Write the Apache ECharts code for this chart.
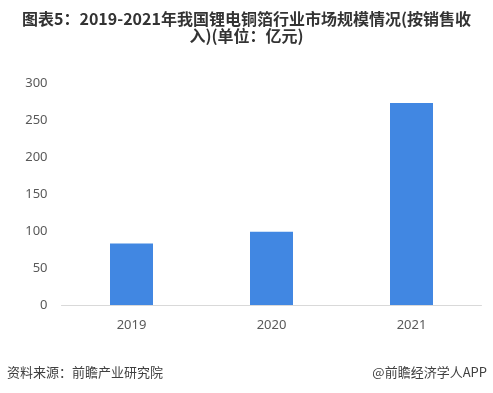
<!DOCTYPE html>
<html><head><meta charset="utf-8">
<script src="https://cdn.jsdelivr.net/npm/echarts@6/dist/echarts.min.js"></script>
<style>html,body{margin:0;padding:0;background:#fff;}#c{width:493px;height:393px;}</style>
</head><body><div id="c"></div>
<script>
var categories = ['2019', '2020', '2021'];
var values = [83, 99, 273];
var yTicks = [0, 50, 100, 150, 200, 250, 300];

var chart = echarts.init(document.getElementById('c'));
chart.setOption({
  animation: false,
  backgroundColor: '#ffffff',
  title: {
    text: '图表5：2019-2021年我国锂电铜箔行业市场规模情况(按销售收\n入)(单位：亿元)',
    left: 'center', top: 5,
    textStyle: { fontFamily: 'Noto Sans CJK SC', fontWeight: 'bold', fontSize: 16, color: '#333333', lineHeight: 17 }
  },
  grid: { left: 61.5, right: 11.5, top: 83, bottom: 88 },
  xAxis: {
    type: 'category', data: categories,
    axisLine: { lineStyle: { color: '#d9d9d9' } },
    axisTick: { show: false },
    axisLabel: { color: '#595959', fontSize: 13, margin: 14, fontFamily: 'Noto Sans' }
  },
  yAxis: {
    type: 'value', min: yTicks[0], max: yTicks[yTicks.length - 1], interval: 50,
    splitLine: { show: false },
    axisLine: { show: false }, axisTick: { show: false },
    axisLabel: { color: '#595959', fontSize: 13, margin: 14, fontFamily: 'Noto Sans' }
  },
  series: [{
    type: 'bar', data: values, barWidth: 43,
    itemStyle: { color: '#4187E2' }
  }],
  graphic: [
    { type: 'text', left: 7, top: 366, style: { text: '资料来源：前瞻产业研究院', fontSize: 13, fill: '#404040', fontFamily: 'Noto Sans CJK SC' } },
    { type: 'text', right: 6, top: 366, style: { text: '@前瞻经济学人APP', fontSize: 13, fill: '#404040', fontFamily: 'Noto Sans CJK SC' } }
  ]
});
</script></body></html>
